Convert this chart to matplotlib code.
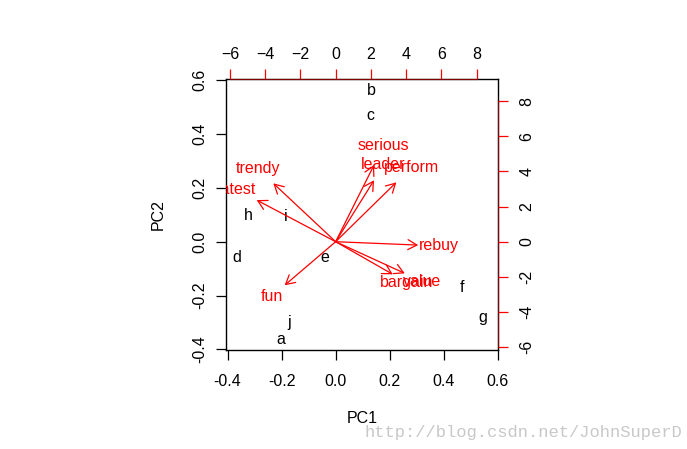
import matplotlib.pyplot as plt
import numpy as np

plt.rcParams['font.family'] = ['Liberation Sans', 'DejaVu Sans']

# brand scores on PC1 / PC2 (bottom & left scale)
brands = ['a', 'b', 'c', 'd', 'e', 'f', 'g', 'h', 'i', 'j']
pc1 = [-0.203, 0.133, 0.130, -0.367, -0.042, 0.469, 0.543, -0.324, -0.184, -0.173]
pc2 = [-0.363, 0.563, 0.470, -0.057, -0.060, -0.169, -0.280, 0.097, 0.094, -0.301]

# variable loadings (top & right scale)
variables = ['perform', 'leader', 'latest', 'fun', 'serious',
             'bargain', 'value', 'trendy', 'rebuy']
load1 = [4.30, 2.72, -5.60, -3.62, 2.72, 4.05, 4.90, -4.42, 5.85]
load2 = [4.22, 4.37, 2.96, -3.10, 5.45, -2.32, -2.25, 4.15, -0.24]

xticks = [-0.4, -0.2, 0.0, 0.2, 0.4, 0.6]
yticks = [-0.4, -0.2, 0.0, 0.2, 0.4, 0.6]
ticks2 = [-6, -4, -2, 0, 2, 4, 6, 8]

xlim = np.array([-0.406, 0.601])
ylim = np.array([-0.402, 0.604])
ratio = 15.32

fs = 11.5
fig = plt.figure(figsize=(6.87, 4.49), dpi=100)
rect = [226 / 687, 99 / 449, 272 / 687, 271 / 449]

# ---------------------------------------------------------
# scores
# ---------------------------------------------------------
ax = fig.add_axes(rect)
ax.set_xlim(xlim)
ax.set_ylim(ylim)
for s in ax.spines.values():
    s.set_linewidth(1.0)
ax.set_xticks(xticks)
ax.set_xticklabels(['%.1f' % v for v in xticks])
ax.set_yticks(yticks)
ax.set_yticklabels(['%.1f' % v for v in yticks], rotation=90, va='center')
ax.tick_params(direction='out', length=7, width=0.9, labelsize=fs)
ax.tick_params(axis='x', pad=10)
ax.tick_params(axis='y', pad=6.5)
ax.set_xlabel('PC1', fontsize=fs, labelpad=16)
ax.set_ylabel('PC2', fontsize=fs, labelpad=19)

for lab, x, y in zip(brands, pc1, pc2):
    ax.text(x, y, lab, fontsize=fs, ha='center', va='center', clip_on=True)

# ---------------------------------------------------------
# loadings on secondary axes
# ---------------------------------------------------------
ax2 = fig.add_axes(rect, label='loadings')
ax2.patch.set_visible(False)
ax2.set_xlim(xlim * ratio)
ax2.set_ylim(ylim * ratio)
ax2.xaxis.tick_top()
ax2.yaxis.tick_right()
ax2.set_xticks(ticks2)
ax2.set_yticks(ticks2)
ax2.set_yticklabels([str(v) for v in ticks2], rotation=90, va='center')
ax2.tick_params(direction='out', length=7, width=0.9, colors='red',
                labelcolor='black', labelsize=fs)
ax2.tick_params(axis='x', pad=5)
ax2.tick_params(axis='y', pad=8.5)
ax2.spines['left'].set_visible(False)
ax2.spines['bottom'].set_visible(False)
for side in ['top', 'right']:
    ax2.spines[side].set_bounds(-6, 8)
    ax2.spines[side].set_color('#800000')

for lab, x, y in zip(variables, load1, load2):
    ax2.annotate('', xy=(0.8 * x, 0.8 * y), xytext=(0, 0),
                 arrowprops=dict(arrowstyle='->,head_length=0.65,head_width=0.36',
                                 color='red', lw=0.9, mutation_scale=10,
                                 shrinkA=0, shrinkB=0))
    ax2.text(x, y, lab, color='red', fontsize=fs, ha='center', va='center',
             clip_on=True)

fig.text(365 / 687, 1 - 437 / 449, 'http://blog.csdn.net/JohnSuperD',
         family='Liberation Mono', fontsize=12.3, color='#c8c8c8', va='baseline')

fig.savefig('out.png', dpi=100)
